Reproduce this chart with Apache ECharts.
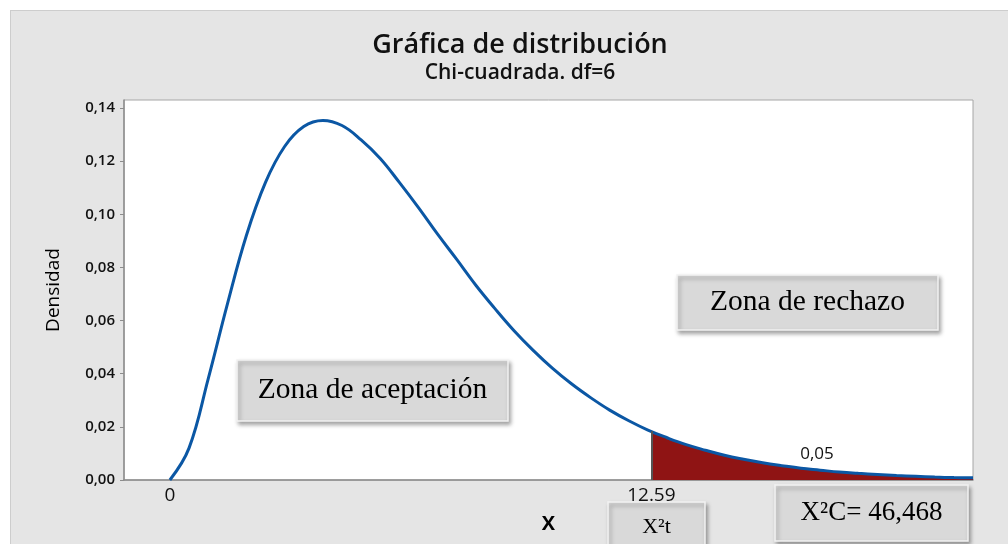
<!DOCTYPE html>
<html>
<head>
<meta charset="utf-8">
<script src="https://cdn.jsdelivr.net/npm/echarts@6/dist/echarts.min.js"></script>
<style>
	html, body {
		margin: 0;
		padding: 0;
		background: #fff;
	}
	.panel {
		position: absolute;
		left: 10px;
		top: 10px;
		width: 1010px;
		height: 550px;
		background: #e5e5e5;
		border: 1px solid #cdcdcd;
	}
	#chart {
		position: absolute;
		left: 0;
		top: 0;
		width: 1008px;
		height: 544px;
	}
</style>
</head>
<body>
<div class="panel"></div>
<div id="chart"></div>
<script>
// density curve (x step 0.5)
const xValues = [0, 0.5, 1, 1.5, 2, 2.5, 3, 3.5, 4, 4.5, 5, 5.5, 6, 6.5, 7, 7.5, 8, 8.5, 9, 9.5, 10,
	10.5, 11, 11.5, 12, 12.5, 13, 13.5, 14, 14.5, 15, 15.5, 16, 16.5, 17, 17.5, 18, 18.5, 19, 19.5, 20, 20.5, 21];
const density = [0, 0.012, 0.038, 0.066, 0.092, 0.112, 0.1255, 0.133, 0.1353, 0.1334, 0.128, 0.121, 0.112,
	0.1025, 0.0925, 0.083, 0.0733, 0.0645, 0.0562, 0.0488, 0.0421, 0.0362, 0.031, 0.0263, 0.0223, 0.0188,
	0.0159, 0.0133, 0.0112, 0.0093, 0.0078, 0.0065, 0.0054, 0.0044, 0.0037, 0.003, 0.0025, 0.0021, 0.0017,
	0.0014, 0.0011, 0.0009, 0.0008];

// critical value and the shaded tail
const critX = 12.59;
const critDensity = 0.0183;
const tailArea = "0,05";

const xTickValues = [0, 12.59];
const xTickLabels = ["0", "12.59"];
const yTickValues = [0, 0.02, 0.04, 0.06, 0.08, 0.1, 0.12, 0.14];

const curveData = xValues.map((x, i) => [x, density[i]]);
const tailData = [[critX, critDensity]].concat(curveData.filter((p) => p[0] > critX));

const serif = "'Liberation Serif', 'Times New Roman', serif";
const sans = "'Open Sans', 'Noto Sans', sans-serif";

function noteBox(x, y, w, h, text, size) {
	return {
		type: "group",
		x: x,
		y: y,
		children: [
			{
				type: "rect",
				shape: { x: 0, y: 0, width: w, height: h },
				style: {
					fill: "#d9d9d9",
					stroke: "#f2f2f2",
					lineWidth: 1.5,
					shadowBlur: 4,
					shadowOffsetX: 2,
					shadowOffsetY: 3,
					shadowColor: "rgba(0,0,0,0.35)",
				},
			},
			{
				type: "text",
				x: w / 2,
				y: h / 2,
				style: {
					text: text,
					fill: "#000",
					font: size + "px " + serif,
					textAlign: "center",
					textVerticalAlign: "middle",
				},
			},
		],
	};
}

let myChart = echarts.init(document.getElementById("chart"));
let option = {
	animation: false,
	title: {
		text: "Gráfica de distribución",
		subtext: "Chi-cuadrada. df=6",
		left: 515,
		top: 27,
		textAlign: "center",
		itemGap: 4,
		textStyle: { fontFamily: sans, fontSize: 27, fontWeight: 600, color: "#111" },
		subtextStyle: { fontFamily: sans, fontSize: 21, fontWeight: 600, color: "#111" },
	},
	grid: {
		left: 124,
		right: 35,
		top: 100,
		bottom: 64,
		show: true,
		backgroundColor: "#fff",
		borderColor: "#a6a6a6",
		borderWidth: 1,
	},
	xAxis: {
		type: "value",
		min: -1.2,
		max: 21,
		name: "x",
		nameLocation: "middle",
		nameGap: 24,
		nameTextStyle: { fontFamily: sans, fontSize: 25, fontWeight: 600, color: "#000" },
		axisLine: { show: true, onZero: false, lineStyle: { color: "#8c8c8c", width: 1.5 } },
		axisTick: { show: false },
		splitLine: { show: false },
		axisLabel: {
			customValues: xTickValues,
			formatter: (v) => xTickLabels[xTickValues.indexOf(v)],
			fontFamily: sans,
			fontSize: 19,
			color: "#111",
			margin: 6,
		},
	},
	yAxis: {
		type: "value",
		min: 0,
		max: 0.143,
		name: "Densidad",
		nameLocation: "middle",
		nameGap: 61,
		nameTextStyle: { fontFamily: sans, fontSize: 19, fontWeight: 500, color: "#000" },
		axisLine: { show: true, onZero: false, lineStyle: { color: "#8c8c8c", width: 1.5 } },
		axisTick: { show: true, length: 4, customValues: yTickValues, lineStyle: { color: "#8c8c8c" } },
		splitLine: { show: false },
		axisLabel: {
			customValues: yTickValues,
			formatter: (v) => v.toFixed(2).replace(".", ","),
			fontFamily: sans,
			fontSize: 15,
			fontWeight: 600,
			color: "#111",
			margin: 9,
		},
	},
	series: [
		{
			type: "line",
			data: tailData,
			smooth: 0.4,
			symbol: "none",
			lineStyle: { width: 0 },
			areaStyle: { color: "#8f1414", opacity: 1 },
			z: 1,
			markLine: {
				silent: true,
				symbol: "none",
				label: { show: false },
				lineStyle: { color: "#555", width: 2, type: "solid" },
				data: [[{ coord: [critX, 0] }, { coord: [critX, critDensity] }]],
			},
		},
		{
			type: "line",
			data: curveData,
			smooth: 0.4,
			symbol: "none",
			lineStyle: { color: "#0b57a4", width: 3 },
			z: 3,
		},
	],
	graphic: [
		noteBox(237, 360, 271, 61, "Zona de aceptación", 29.5),
		noteBox(677, 275, 261, 55, "Zona de rechazo", 29.5),
		noteBox(608, 502, 97, 50, "X²t", 22),
		noteBox(775, 485, 193, 56, "X²C= 46,468", 27),
		{
			type: "text",
			x: 817,
			y: 454,
			z: 10,
			style: {
				text: tailArea,
				fill: "#111",
				font: "17px " + sans,
				textAlign: "center",
				textVerticalAlign: "middle",
			},
		},
	],
};
myChart.setOption(option);
</script>
</body>
</html>
